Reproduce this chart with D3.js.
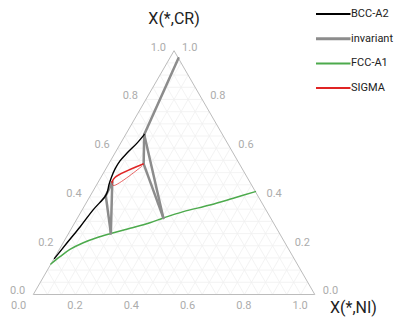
<!DOCTYPE html>
<html>
<head>
<meta charset="utf-8">
<script src="https://cdn.jsdelivr.net/npm/d3@7"></script>
<style>
  html, body { margin: 0; padding: 0; background: #fff; }
  svg { display: block; font-family: Roboto, "Noto Sans", sans-serif; }
</style>
</head>
<body>
<svg id="chart" width="394" height="323"></svg>
<script>
// ---- data: [X(*,NI), X(*,CR)] ----
const tickValues = [0.0, 0.2, 0.4, 0.6, 0.8, 1.0];
const axisTitles = ["X(*,CR)", "X(*,NI)"];
const seriesNames = ["BCC-A2", "invariant", "FCC-A1", "SIGMA"];
const seriesColors = ["#000000", "#8c8c8c", "#4caa4c", "#e02424"];

const bccA2 = [
  [0.066, 0.656], [0.058, 0.621], [0.043, 0.580], [0.034, 0.548], [0.033, 0.515],
  [0.037, 0.482], [0.044, 0.449], [0.053, 0.420], [0.054, 0.402], [0.039, 0.347],
  [0.0275, 0.277], [0.0136, 0.210], [0.0015, 0.148]
];
const invariantLines = [
  [[0.031, 0.969], [0.066, 0.656]],
  [[0.066, 0.656], [0.124, 0.536]],
  [[0.066, 0.656], [0.305, 0.314]],
  [[0.124, 0.536], [0.305, 0.314]],
  [[0.055, 0.405], [0.150, 0.251]],
  [[0.050, 0.461], [0.150, 0.251]],
  [[0.055, 0.405], [0.050, 0.461]]
];
const fccA1 = [
  [0.0, 0.125], [0.0173, 0.155], [0.0377, 0.185], [0.0714, 0.2125], [0.1087, 0.233],
  [0.153, 0.251], [0.2077, 0.2715], [0.2673, 0.2945], [0.305, 0.314], [0.363, 0.340],
  [0.444, 0.367], [0.513, 0.395], [0.578, 0.422]
];
const sigmaUpper = [[0.123, 0.535], [0.050, 0.480], [0.049, 0.461]];
const sigmaLower = [[0.049, 0.461], [0.061, 0.447], [0.122, 0.525]];

// ---- scales ----
const svg = d3.select("#chart");
const xs = d3.scaleLinear().domain([0, 1]).range([33.3, 314.8]);
const ys = d3.scaleLinear().domain([0, 1]).range([294.5, 50.7]);
const px = d => xs(d[0] + d[1] / 2);
const py = d => ys(d[1]);
const line = d3.line().x(px).y(py);
const curve = d3.line().x(px).y(py).curve(d3.curveCatmullRom.alpha(0.5));

// ---- grid ----
const grid = svg.append("g");
const gridSegs = [];
for (let i = 1; i < 20; i++) {
  const k = i / 20;
  gridSegs.push([[0, k], [1 - k, k]]);
  gridSegs.push([[k, 0], [k, 1 - k]]);
  gridSegs.push([[1 - k, 0], [0, 1 - k]]);
}
grid.selectAll("path").data(gridSegs).join("path")
  .attr("d", line).attr("fill", "none")
  .attr("stroke", "#f0f0f0").attr("stroke-width", 0.8);

// ---- triangle frame ----
svg.append("path")
  .attr("d", line([[0, 0], [1, 0], [0, 1], [0, 0]]) + "Z")
  .attr("fill", "none").attr("stroke", "#bcbcbc").attr("stroke-width", 1);

// ---- tick labels ----
const tl = svg.append("g").attr("font-size", 11).attr("fill", "#acacac");
tl.selectAll("text.l").data(tickValues).join("text").attr("class", "l")
  .attr("x", v => px([0, v]) - 8).attr("y", v => py([0, v]) - 3)
  .attr("text-anchor", "end").attr("dominant-baseline", "middle")
  .text(v => v.toFixed(1));
tl.selectAll("text.r").data(tickValues).join("text").attr("class", "r")
  .attr("x", v => px([1 - v, v]) + 8).attr("y", v => py([1 - v, v]) - 3)
  .attr("text-anchor", "start").attr("dominant-baseline", "middle")
  .text(v => v.toFixed(1));
tl.selectAll("text.b").data(tickValues).join("text").attr("class", "b")
  .attr("x", v => px([v, 0]) - 7).attr("y", v => py([v, 0]) + 12)
  .attr("text-anchor", "end").attr("dominant-baseline", "middle")
  .text(v => v.toFixed(1));

// ---- axis titles ----
svg.append("text").attr("x", xs(0.5)).attr("y", 24)
  .attr("text-anchor", "middle").attr("font-size", 16).attr("fill", "#222")
  .text(axisTitles[0]);
svg.append("text").attr("x", 330).attr("y", 313)
  .attr("text-anchor", "start").attr("font-size", 16).attr("fill", "#222")
  .text(axisTitles[1]);

// ---- series ----
const plot = svg.append("g").attr("fill", "none").attr("stroke-linejoin", "round").attr("stroke-linecap", "round");
plot.append("path").attr("d", curve(fccA1)).attr("stroke", seriesColors[2]).attr("stroke-width", 1.5);
plot.selectAll("path.inv").data(invariantLines).join("path").attr("class", "inv")
  .attr("d", line).attr("stroke", seriesColors[1]).attr("stroke-width", 2.5);
plot.append("path").attr("d", curve(bccA2)).attr("stroke", seriesColors[0]).attr("stroke-width", 1.4);
plot.append("path").attr("d", curve(sigmaUpper)).attr("stroke", seriesColors[3]).attr("stroke-width", 1.6);
plot.append("path").attr("d", curve(sigmaLower)).attr("stroke", seriesColors[3]).attr("stroke-width", 1).attr("stroke-opacity", 0.7);

// ---- legend ----
const leg = svg.append("g");
const legW = [2, 3, 2, 2];
seriesNames.forEach((name, i) => {
  const y = 14 + i * 24.7;
  leg.append("line").attr("x1", 316).attr("x2", 350.5).attr("y1", y).attr("y2", y)
    .attr("stroke", seriesColors[i]).attr("stroke-width", legW[i]);
  leg.append("text").attr("x", 351).attr("y", y).attr("dominant-baseline", "middle")
    .attr("font-size", 11).attr("fill", "#222").text(name);
});
</script>
</body>
</html>
